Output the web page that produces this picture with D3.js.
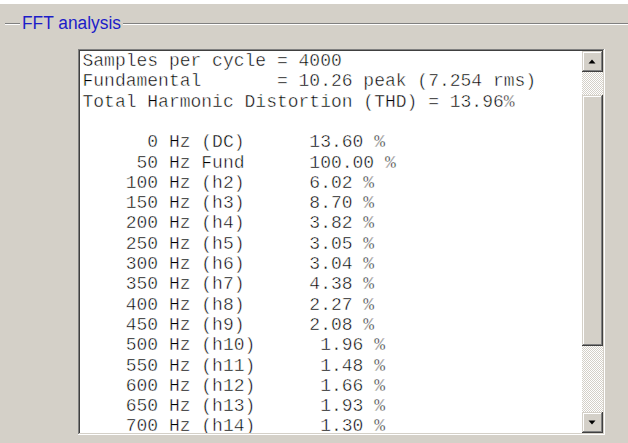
<!DOCTYPE html>
<html>
<head>
<meta charset="utf-8">
<script src="https://cdn.jsdelivr.net/npm/d3@7"></script>
<style>
html, body { margin: 0; padding: 0; background: #d4d0c8; }
svg { display: block; }
text.mono { font-family: "Liberation Mono", "DejaVu Sans Mono", monospace; font-size: 18px; white-space: pre; fill: #000;
	stroke: #ffffff; stroke-width: 0.45px; paint-order: fill; }
</style>
</head>
<body>
<script>
// header values
var samplesPerCycle = 4000;
var fundamentalPeak = 10.26;
var fundamentalRms = 7.254;
var thdPercent = 13.96;

// spectrum rows
var freqs = [0, 50, 100, 150, 200, 250, 300, 350, 400, 450, 500, 550, 600, 650, 700];
var harmonicLabels = ['(DC)', 'Fund', '(h2)', '(h3)', '(h4)', '(h5)', '(h6)', '(h7)', '(h8)',
	'(h9)', '(h10)', '(h11)', '(h12)', '(h13)', '(h14)'];
var percents = [13.60, 100.00, 6.02, 8.70, 3.82, 3.05, 3.04, 4.38, 2.27, 2.08, 1.96, 1.48, 1.66, 1.93, 1.30];

var W = 628, H = 443;
var face = '#d4d0c8', shadow = '#808080', dark = '#404040';

var svg = d3.select('body').append('svg').attr('width', W).attr('height', H);

svg.append('rect').attr('width', W).attr('height', H).attr('fill', face);
svg.append('rect').attr('width', W).attr('height', 4).attr('fill', '#ffffff');

// group box etched line + title
function hline(x1, x2, y, c) {
	svg.append('line').attr('x1', x1).attr('x2', x2).attr('y1', y + 0.5).attr('y2', y + 0.5)
		.attr('stroke', c).attr('shape-rendering', 'crispEdges');
}
hline(5, 20, 23, shadow); hline(5, 20, 24, '#ffffff');
hline(123, W, 23, shadow); hline(123, W, 24, '#ffffff');

svg.append('text').attr('x', 22).attr('y', 29)
	.attr('textLength', 99).attr('lengthAdjust', 'spacingAndGlyphs')
	.style('font-family', '"Liberation Sans", Arial, sans-serif').style('font-size', '18px')
	.attr('fill', '#1c1cc8').text('FFT analysis');

// sunken text box
var box = {x: 78, y: 49, w: 527, h: 386};
svg.append('rect').attr('x', box.x).attr('y', box.y).attr('width', box.w).attr('height', box.h).attr('fill', '#ffffff');
function edge(x, y, w, h, c) {
	svg.append('rect').attr('x', x).attr('y', y).attr('width', w).attr('height', h).attr('fill', c);
}
edge(box.x, box.y, box.w - 1, 1, shadow);
edge(box.x, box.y, 1, box.h - 1, shadow);
edge(box.x + 1, box.y + 1, box.w - 3, 1, dark);
edge(box.x + 1, box.y + 1, 1, box.h - 3, dark);
edge(box.x, box.y + box.h - 1, box.w, 1, '#ffffff');
edge(box.x + box.w - 1, box.y, 1, box.h, '#ffffff');
edge(box.x + 1, box.y + box.h - 2, box.w - 2, 1, face);
edge(box.x + box.w - 2, box.y + 1, 1, box.h - 2, face);

var inner = {x: box.x + 2, y: box.y + 2, x2: box.x + box.w - 2, y2: box.y + box.h - 2};
var sbW = 21, sbX = inner.x2 - sbW;

// text lines
var lines = [
	'Samples per cycle = ' + samplesPerCycle,
	'Fundamental       = ' + fundamentalPeak.toFixed(2) + ' peak (' + fundamentalRms.toFixed(3) + ' rms)',
	'Total Harmonic Distortion (THD) = ' + thdPercent.toFixed(2) + '%',
	''
];
freqs.forEach(function(f, i) {
	var label = ('       ' + f).slice(-7) + ' Hz ' + harmonicLabels[i];
	lines.push(label + '      ' + percents[i].toFixed(2) + ' %');
});

var rowY = d3.scaleLinear().domain([0, 1]).range([66, 86.3]);

svg.append('clipPath').attr('id', 'txtclip').append('rect')
	.attr('x', inner.x).attr('y', inner.y).attr('width', sbX - inner.x).attr('height', inner.y2 - inner.y);

svg.append('g').attr('clip-path', 'url(#txtclip)')
	.selectAll('text').data(lines).enter().append('text')
	.attr('class', 'mono')
	.attr('x', 82.5)
	.attr('y', function(d, i) { return rowY(i); })
	.text(function(d) { return d; });

// scrollbar
var defs = svg.append('defs');
var pat = defs.append('pattern').attr('id', 'dots').attr('width', 2).attr('height', 2).attr('patternUnits', 'userSpaceOnUse');
pat.append('rect').attr('width', 2).attr('height', 2).attr('fill', '#ffffff');
pat.append('rect').attr('width', 1).attr('height', 1).attr('fill', face);
pat.append('rect').attr('x', 1).attr('y', 1).attr('width', 1).attr('height', 1).attr('fill', face);

svg.append('rect').attr('x', sbX).attr('y', inner.y).attr('width', sbW).attr('height', inner.y2 - inner.y).attr('fill', 'url(#dots)');

function raised(x, y, w, h) {
	edge(x, y, w, h, dark);
	edge(x, y, w - 1, h - 1, '#ffffff');
	edge(x + 1, y + 1, w - 2, h - 2, shadow);
	edge(x + 1, y + 1, w - 3, h - 3, face);
	edge(x, y, w - 1, 1, face);
	edge(x, y, 1, h - 1, face);
	edge(x + 1, y + 1, w - 3, 1, '#ffffff');
	edge(x + 1, y + 1, 1, h - 3, '#ffffff');
}
var btn = 21;
raised(sbX, inner.y, sbW, btn);
raised(sbX, inner.y2 - btn, sbW, btn);
raised(sbX, 95, sbW, 346 - 95);

var cx = sbX + sbW / 2 - 0.5;
svg.append('path').attr('d', 'M' + (cx - 3.5) + ',' + (inner.y + 12.5) + 'L' + (cx + 3.5) + ',' + (inner.y + 12.5) + 'L' + cx + ',' + (inner.y + 8.5) + 'Z').attr('fill', '#000');
svg.append('path').attr('d', 'M' + (cx - 3.5) + ',' + (inner.y2 - 12.5) + 'L' + (cx + 3.5) + ',' + (inner.y2 - 12.5) + 'L' + cx + ',' + (inner.y2 - 8.5) + 'Z').attr('fill', '#000');
</script>
</body>
</html>
